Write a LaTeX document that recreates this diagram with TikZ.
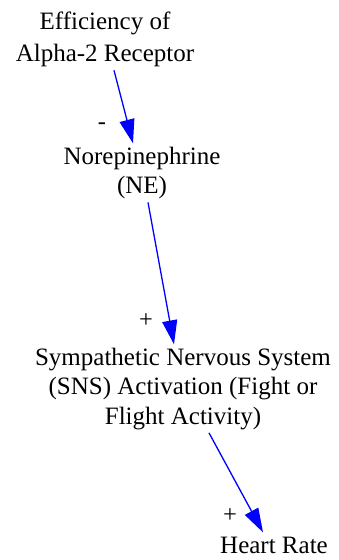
\documentclass[tikz,border=0pt]{standalone}
\usepackage{fontspec}
\setmainfont{Liberation Serif}
\usetikzlibrary{arrows.meta}
\tikzset{
  concept/.style={inner sep=0pt, outer sep=0pt, anchor=base, font=\fontsize{25}{29.5}\selectfont},
  sign/.style={inner sep=0pt, anchor=base, font=\fontsize{24.5}{29.5}\selectfont},
  link/.style={draw=blue, line width=1.3pt, -{Triangle[length=24pt,width=15pt]}},
}
\newcommand{\lines}[1]{\begin{tabular}[t]{@{}c@{}}#1\end{tabular}}
\begin{document}
\begin{tikzpicture}[x=1pt,y=-1pt]
\useasboundingbox (0,0) rectangle (339,560);
\node[concept] (eff) at (105,29) {\lines{Efficiency of\\[3pt]Alpha-2 Receptor}};
\node[concept] (ne) at (142,164) {\lines{Norepinephrine\\(NE)}};
\node[concept] (sns) at (183,365) {\lines{Sympathetic Nervous System\\(SNS) Activation (Fight or\\Flight Activity)}};
\node[concept] (hr) at (274,553) {\lines{Heart Rate}};
\draw[link] ([xshift=9pt]eff.south) -- ([xshift=-9pt]ne.north);
\draw[link] ([xshift=6pt]ne.south) -- ([xshift=-9pt]sns.north);
\draw[link] ([xshift=26pt]sns.south) -- ([xshift=-11pt]hr.north);
\node[sign] (s1) at (102,129.5) {-};
\node[sign] (s2) at (146,327) {+};
\node[sign] (s3) at (230,522) {+};
\end{tikzpicture}
\end{document}
